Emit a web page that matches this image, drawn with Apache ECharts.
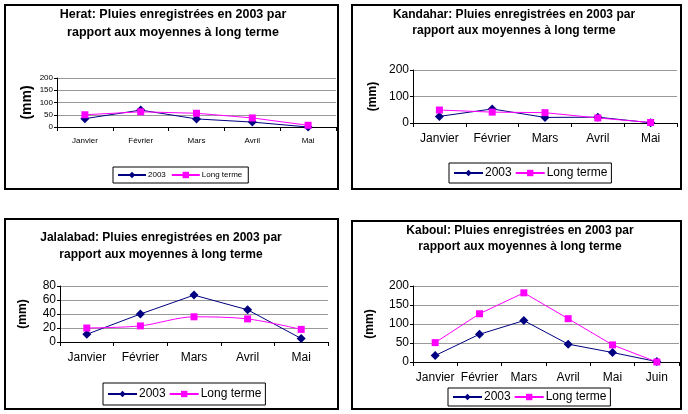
<!DOCTYPE html>
<html>
<head>
<meta charset="utf-8">
<script src="https://cdn.jsdelivr.net/npm/echarts@6/dist/echarts.min.js"></script>
<style>
html,body{margin:0;padding:0;background:#fff;}
#c{width:688px;height:414px;}
</style>
</head>
<body>
<div id="c"></div>
<script>
// ---- data ----
const months5 = ['Janvier', 'Février', 'Mars', 'Avril', 'Mai'];
const months6 = ['Janvier', 'Février', 'Mars', 'Avril', 'Mai', 'Juin'];
const seriesNames = ['2003', 'Long terme'];

const heratTitle = 'Herat: Pluies enregistrées en 2003 par\nrapport aux moyennes à long terme';
const herat2003 = [34, 69, 33, 20, 0];
const heratLong = [50, 62, 56, 37, 7];

const kandaharTitle = 'Kandahar: Pluies enregistrées en 2003 par\nrapport aux moyennes à long terme';
const kandahar2003 = [25, 53, 21, 22, 1];
const kandaharLong = [49, 41, 39, 19, 2];

const jalalabadTitle = 'Jalalabad: Pluies enregistrées en 2003 par\nrapport aux moyennes à long terme';
const jalalabad2003 = [11, 40, 67, 46, 5];
const jalalabadLong = [20, 23, 36, 33, 18];

const kaboulTitle = 'Kaboul: Pluies enregistrées en 2003 par\nrapport aux moyennes à long terme';
const kaboul2003 = [17, 73, 109, 47, 25, 1];
const kaboulLong = [51, 127, 182, 114, 45, 0];

const yMax = [200, 200, 80, 200];
const yStep = [50, 100, 20, 50];
const yName = '(mm)';

// ---- layout ----
const FONT = '"Liberation Sans", Arial, sans-serif';
const NAVY = '#000080';
const MAG = '#FF00FF';

const panels = [
  {title: heratTitle, cats: months5, a: herat2003, b: heratLong,
   grid: {left: 57, top: 78, width: 279, height: 49},
   titlePos: {x: 173, y: 6}, tf: 12.5, lh: 18, lf: 8, af: 8, nameGap: 23, nf: 14,
   legend: {left: 113, top: 167, pad: [4, 6, 4, 4], iw: 28, gap: 5}, lm: 10, smoothB: false},
  {title: kandaharTitle, cats: months5, a: kandahar2003, b: kandaharLong,
   grid: {left: 413, top: 70, width: 264, height: 53},
   titlePos: {x: 514, y: 7}, tf: 12, lh: 16, lf: 12, af: 12, nameGap: 34, nf: 12,
   legend: {left: 449, top: 163, pad: [4, 4, 4, 4], iw: 29, gap: 3}, lm: 10, smoothB: false},
  {title: jalalabadTitle, cats: months5, a: jalalabad2003, b: jalalabadLong,
   grid: {left: 60, top: 286, width: 268, height: 56},
   titlePos: {x: 161, y: 229}, tf: 12, lh: 17, lf: 12, af: 12, nameGap: 31, nf: 12,
   legend: {left: 103, top: 383, pad: [5, 4, 5, 4], iw: 29, gap: 3}, lm: 10, smoothB: 0.3},
  {title: kaboulTitle, cats: months6, a: kaboul2003, b: kaboulLong,
   grid: {left: 413, top: 286, width: 266, height: 76},
   titlePos: {x: 520, y: 223}, tf: 12, lh: 16, lf: 12, af: 12, nameGap: 37, nf: 12,
   legend: {left: 448, top: 388, pad: [3, 4, 3, 4], iw: 29, gap: 3}, lm: 10, smoothB: false}
];

const boxes = [
  {x: 5, y: 5, w: 333, h: 184},
  {x: 352, y: 5, w: 329, h: 184},
  {x: 5, y: 219, w: 333, h: 190},
  {x: 352, y: 221, w: 329, h: 188}
];

const option = {
  animation: false,
  backgroundColor: '#fff',
  title: [], grid: [], xAxis: [], yAxis: [], series: [], legend: [],
  graphic: boxes.map(b => ({
    type: 'rect', shape: {x: b.x, y: b.y, width: b.w, height: b.h},
    style: {fill: 'none', stroke: '#000', lineWidth: 2}, silent: true, z: 100
  }))
};

panels.forEach((p, i) => {
  option.title.push({
    text: p.title, left: p.titlePos.x, top: p.titlePos.y, textAlign: 'center',
    padding: 0,
    textStyle: {fontFamily: FONT, fontSize: p.tf, fontWeight: 'bold', color: '#000', lineHeight: p.lh}
  });
  option.grid.push(Object.assign({containLabel: false}, p.grid));
  option.xAxis.push({
    type: 'category', gridIndex: i, data: p.cats, boundaryGap: true,
    axisLine: {lineStyle: {color: '#000', width: 1}},
    axisTick: {show: true, alignWithLabel: false, length: 4, lineStyle: {color: '#000'}},
    axisLabel: {fontFamily: FONT, fontSize: p.af, color: '#000', margin: p.lm, interval: 0}
  });
  option.yAxis.push({
    type: 'value', gridIndex: i, min: 0, max: yMax[i], interval: yStep[i],
    name: yName, nameLocation: 'middle', nameRotate: 90, nameGap: p.nameGap,
    nameTextStyle: {fontFamily: FONT, fontSize: p.nf, fontWeight: 'bold', color: '#000'},
    axisLine: {show: true, lineStyle: {color: '#000', width: 1}},
    axisTick: {show: true, length: 3, lineStyle: {color: '#000'}},
    axisLabel: {fontFamily: FONT, fontSize: p.af, color: '#000', margin: 4},
    splitLine: {show: true, lineStyle: {color: '#999', width: 1}}
  });
  option.series.push({
    name: seriesNames[0], type: 'line', xAxisIndex: i, yAxisIndex: i, data: p.a,
    symbol: 'diamond', symbolSize: 9, color: NAVY,
    lineStyle: {color: NAVY, width: 1}, itemStyle: {color: NAVY}
  });
  option.series.push({
    name: seriesNames[1], type: 'line', xAxisIndex: i, yAxisIndex: i, data: p.b,
    symbol: 'rect', symbolSize: 7, color: MAG, smooth: p.smoothB,
    lineStyle: {color: MAG, width: 1}, itemStyle: {color: MAG}
  });
  option.legend.push({
    orient: 'horizontal',
    data: seriesNames.map(n => ({name: n})),
    left: p.legend.left, top: p.legend.top,
    borderColor: '#000', borderWidth: 1, padding: p.legend.pad,
    itemWidth: p.legend.iw, itemHeight: 8, itemGap: p.legend.gap,
    textStyle: {fontFamily: FONT, fontSize: p.lf, color: '#000', padding: [0, 0, 0, -3]}
  });
});

const chart = echarts.init(document.getElementById('c'), null, {renderer: 'canvas'});
chart.setOption(option);
</script>
</body>
</html>
